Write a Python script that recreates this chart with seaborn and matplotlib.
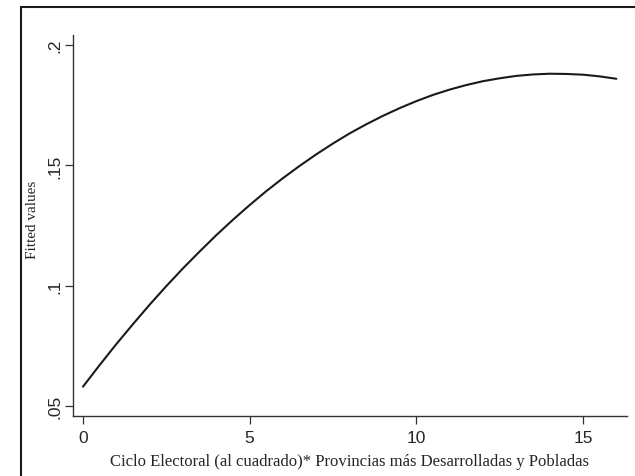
import matplotlib
matplotlib.use("Agg")
import matplotlib.pyplot as plt
from matplotlib.lines import Line2D
import seaborn as sns
import pandas as pd

# Values (fitted values)
x_vals = [0, 0.5, 1, 1.5, 2, 2.5, 3, 3.5, 4, 4.5, 5, 5.5, 6, 6.5, 7, 7.5, 8,
          8.5, 9, 9.5, 10, 10.5, 11, 11.5, 12, 12.5, 13, 13.5, 14, 14.5, 15, 15.5, 16]
y_vals = [0.0580, 0.0670, 0.0757, 0.0840, 0.0921, 0.0998, 0.1072, 0.1142, 0.1210,
          0.1274, 0.1335, 0.1393, 0.1447, 0.1498, 0.1546, 0.1591, 0.1633, 0.1671,
          0.1706, 0.1738, 0.1767, 0.1793, 0.1815, 0.1834, 0.1850, 0.1862, 0.1872,
          0.1878, 0.1881, 0.1880, 0.1877, 0.1870, 0.1860]
x_ticks = [0, 5, 10, 15]
x_ticklabels = ["0", "5", "10", "15"]
y_ticks = [0.05, 0.10, 0.15, 0.20]
y_ticklabels = [".05", ".1", ".15", ".2"]
x_label = "Ciclo Electoral (al cuadrado)* Provincias más Desarrolladas y Pobladas"
y_label = "Fitted values"

df = pd.DataFrame({"x": x_vals, "y": y_vals})

sns.set_style("white")
plt.rcParams["font.family"] = ["Liberation Sans", "DejaVu Sans"]

fig = plt.figure(figsize=(6.35, 4.77), dpi=100)
ax = fig.add_axes([73/635, 1 - 417/477, (627 - 73)/635, (417 - 36)/477])

sns.lineplot(data=df, x="x", y="y", ax=ax, color="#1a1a1a", linewidth=1.5)

ax.set_xlim(-0.3, 16.32)
ax.set_ylim(0.0458, 0.2042)

ax.set_xticks(x_ticks)
ax.set_xticklabels(x_ticklabels, fontsize=12.5)
ax.set_yticks(y_ticks)
ax.set_yticklabels(y_ticklabels, fontsize=12.5, rotation=90, va="center")

ax.tick_params(axis="both", which="major", length=6, width=0.9, color="#333333",
               direction="out", bottom=True, left=True)
ax.tick_params(axis="x", pad=4)
ax.tick_params(axis="y", pad=2)

for s in ["top", "right"]:
    ax.spines[s].set_visible(False)
for s in ["left", "bottom"]:
    ax.spines[s].set_color("#333333")
    ax.spines[s].set_linewidth(1.0)

ax.set_xlabel(x_label, fontsize=12, family=["Liberation Serif", "DejaVu Serif"],
              labelpad=6)
ax.set_ylabel(y_label, fontsize=11, family=["Liberation Serif", "DejaVu Serif"],
              va="center")
ax.yaxis.set_label_coords((33 - 73) / 554, (417 - 220) / 381)

# outer frame (left and top edges visible in the crop)
fig.add_artist(Line2D([21/635, 21/635], [0, 1 - 8/477], transform=fig.transFigure,
                      color="#1a1a1a", linewidth=1.5))
fig.add_artist(Line2D([21/635, 1.0], [1 - 8/477, 1 - 8/477], transform=fig.transFigure,
                      color="#1a1a1a", linewidth=1.5))

fig.savefig("out.png", dpi=100, facecolor="white")
